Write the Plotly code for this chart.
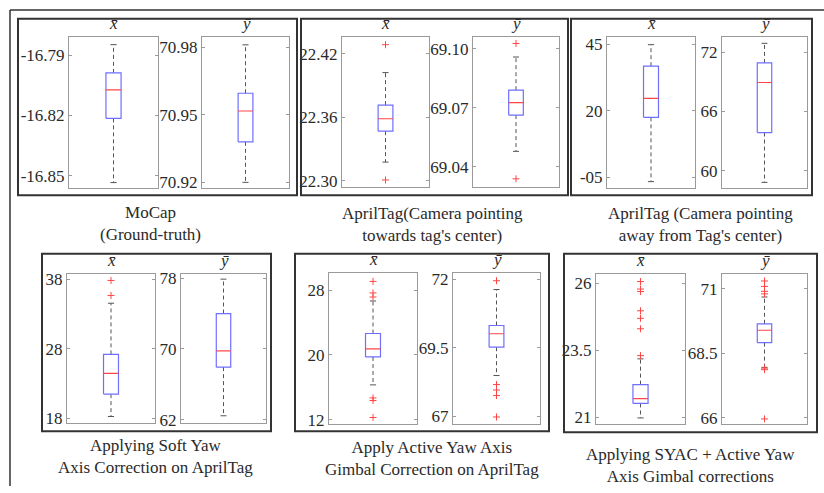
import plotly.graph_objects as go

W, H = 824, 493

# ---------------- data ----------------
CAPTIONS = [
    "MoCap<br>(Ground-truth)",
    "AprilTag(Camera pointing<br>towards tag's center)",
    "AprilTag (Camera pointing<br>away from Tag's center)",
    "Applying Soft Yaw<br>Axis Correction on AprilTag",
    "Apply Active Yaw Axis<br>Gimbal Correction on AprilTag",
    "Applying SYAC + Active Yaw<br>Axis Gimbal corrections",
]
VARS = ["x\u0304", "\u0233"]

# 12 boxes: panel order, x then y
UPPER_WHISKER = [-16.7848, 70.9811, 22.4022, 69.0959, 44.75, 72.89,
                 34.53, 77.89, 26.67, 71.62, 23.18, 70.69]
Q3 = [-16.7988, 70.9596, 22.3714, 69.0790, 36.7, 70.91,
      27.16, 74.0, 22.65, 70.31, 22.22, 69.65]
MEDIAN = [-16.8073, 70.9517, 22.3585, 69.0726, 24.6, 68.93,
          24.43, 69.78, 20.76, 70.01, 21.70, 69.40]
Q1 = [-16.8214, 70.9380, 22.3468, 69.0663, 17.5, 63.87,
      21.44, 67.94, 19.75, 69.52, 21.52, 68.92]
LOWER_WHISKER = [-16.8533, 70.9200, 22.3175, 69.0478, -6.6, 58.83,
                 18.22, 62.44, 16.3, 68.49, 20.98, 67.96]
OUTLIERS = [
    [], [],
    [22.4286, 22.3006], [69.1028, 69.0338],
    [], [],
    [37.81, 35.65], [],
    [29.09, 27.67, 27.16, 14.69, 14.37, 12.27], [71.94, 68.16, 67.96, 67.76, 66.98],
    [26.06, 25.78, 25.69, 24.97, 24.69, 24.30, 23.30], [71.31, 71.10, 70.91, 70.81, 67.93, 67.87, 65.96],
]
TICK_VALS = [
    [-16.85, -16.82, -16.79], [70.92, 70.95, 70.98],
    [22.30, 22.36, 22.42], [69.04, 69.07, 69.10],
    [-5, 20, 45], [60, 66, 72],
    [18, 28, 38], [62, 70, 78],
    [12, 20, 28], [67, 69.5, 72],
    [21, 23.5, 26], [66, 68.5, 71],
]
TICK_TEXT = [
    ["-16.85", "-16.82", "-16.79"], ["70.92", "70.95", "70.98"],
    ["22.30", "22.36", "22.42"], ["69.04", "69.07", "69.10"],
    ["-05", "20", "45"], ["60", "66", "72"],
    ["18", "28", "38"], ["62", "70", "78"],
    ["12", "20", "28"], ["67", "69.5", "72"],
    ["21", "23.5", "26"], ["66", "68.5", "71"],
]

# ---------------- layout geometry (pixels) ----------------
Y_RANGES = [
    [-16.8562, -16.7811], [70.9173, 70.9845],
    [22.2935, 22.4357], [69.0294, 69.1060],
    [-9.14, 47.56], [58.22, 73.51],
    [17.34, 38.70], [61.67, 78.44],
    [11.52, 30.09], [66.74, 72.21],
    [20.77, 26.33], [65.78, 71.57],
]
PLOTS = [  # left, right, top, bottom
    (69, 158, 33, 188), (202, 289, 33, 188),
    (342, 429, 33, 187), (473, 559, 33, 187),
    (607, 695, 33, 188), (722, 807, 33, 188),
    (67, 155, 276, 428), (181, 266, 276, 428),
    (329, 417, 275, 429), (453, 540, 275, 429),
    (596, 685, 276, 429), (722, 807, 276, 429),
]
FRAMES = [(18, 297, 14, 195), (301, 568, 14, 195), (571, 812, 14, 195),
          (42, 271, 255, 437), (295, 549, 255, 437), (564, 817, 255, 438)]
CAP_POS = [(150, 224), (432, 225), (700, 225), (155, 463), (432, 465), (690, 472)]

FONT = "Liberation Serif"
TXT = "#2a2a2a"
AX = "#9a9a9a"
BLUE = "rgb(110,110,255)"
RED = "rgb(255,70,70)"
WHISK = "#555555"

BW = 0.085   # half box width (x units)
CW = 0.035   # half cap width

fig = go.Figure()
layout = {}
annotations = []
shapes = []

def px(x):
    return x / W

def py(y):
    return 1 - y / H

for i in range(12):
    n = i + 1
    xa = "x" if n == 1 else f"x{n}"
    ya = "y" if n == 1 else f"y{n}"
    l, r, t, b = PLOTS[i]
    layout[f"xaxis{n if n > 1 else ''}"] = dict(
        domain=[px(l), px(r)], range=[0.5, 1.5], anchor=ya,
        showline=True, linecolor=AX, linewidth=1, mirror=True,
        showticklabels=False, ticks="", showgrid=False, zeroline=False, fixedrange=True)
    layout[f"yaxis{n if n > 1 else ''}"] = dict(
        domain=[py(b), py(t)], range=Y_RANGES[i], anchor=xa,
        tickvals=TICK_VALS[i], ticktext=TICK_TEXT[i],
        ticks="inside", ticklen=3, tickcolor=AX, tickwidth=1,
        showline=True, linecolor=AX, linewidth=1, mirror="ticks",
        showgrid=False, zeroline=False,
        tickfont=dict(family=FONT, size=17, color=TXT), fixedrange=True)

    hi, q3, med, q1, lo = UPPER_WHISKER[i], Q3[i], MEDIAN[i], Q1[i], LOWER_WHISKER[i]
    # whiskers (dashed)
    fig.add_trace(go.Scatter(x=[1, 1, None, 1, 1], y=[q3, hi, None, q1, lo], mode="lines",
                             line=dict(color=WHISK, width=1, dash="4px,3px"),
                             xaxis=xa, yaxis=ya, showlegend=False, hoverinfo="skip"))
    # caps
    fig.add_trace(go.Scatter(x=[1 - CW, 1 + CW, None, 1 - CW, 1 + CW], y=[hi, hi, None, lo, lo],
                             mode="lines", line=dict(color=WHISK, width=1),
                             xaxis=xa, yaxis=ya, showlegend=False, hoverinfo="skip"))
    # box
    fig.add_trace(go.Scatter(x=[1 - BW, 1 + BW, 1 + BW, 1 - BW, 1 - BW], y=[q1, q1, q3, q3, q1],
                             mode="lines", line=dict(color=BLUE, width=1.2),
                             xaxis=xa, yaxis=ya, showlegend=False))
    # median
    fig.add_trace(go.Scatter(x=[1 - BW, 1 + BW], y=[med, med], mode="lines",
                             line=dict(color=RED, width=1.2),
                             xaxis=xa, yaxis=ya, showlegend=False))
    # outliers
    if OUTLIERS[i]:
        fig.add_trace(go.Scatter(x=[1] * len(OUTLIERS[i]), y=OUTLIERS[i], mode="markers",
                                 marker=dict(symbol="cross-thin", size=5,
                                             line=dict(color=RED, width=1), color=RED),
                                 xaxis=xa, yaxis=ya, showlegend=False))
    # variable title
    annotations.append(dict(text=f"<i>{VARS[i % 2]}</i>", x=px((l + r) / 2), y=py(t - 2),
                            xref="paper", yref="paper", xanchor="center", yanchor="bottom",
                            showarrow=False, font=dict(family=FONT, size=17, color=TXT)))

for k, (l, r, t, b) in enumerate(FRAMES):
    shapes.append(dict(type="rect", xref="paper", yref="paper",
                       x0=px(l), x1=px(r), y0=py(b), y1=py(t),
                       line=dict(color="#333333", width=2)))
    cx, cy = CAP_POS[k]
    annotations.append(dict(text=CAPTIONS[k], x=px(cx), y=py(cy), xref="paper", yref="paper",
                            xanchor="center", yanchor="middle", showarrow=False, align="center",
                            font=dict(family=FONT, size=17, color=TXT)))

# outer border lines (top and left)
shapes.append(dict(type="line", xref="paper", yref="paper", x0=px(10), x1=1.0, y0=py(5), y1=py(5),
                   line=dict(color="#333333", width=1.5)))
shapes.append(dict(type="line", xref="paper", yref="paper", x0=px(10), x1=px(10), y0=py(5), y1=0,
                   line=dict(color="#333333", width=1.5)))

fig.update_layout(**layout)
fig.update_layout(width=W, height=H, margin=dict(l=0, r=0, t=0, b=0),
                  paper_bgcolor="white", plot_bgcolor="white",
                  font=dict(family=FONT, color=TXT),
                  annotations=annotations, shapes=shapes, showlegend=False)

fig.write_html("out.html")
